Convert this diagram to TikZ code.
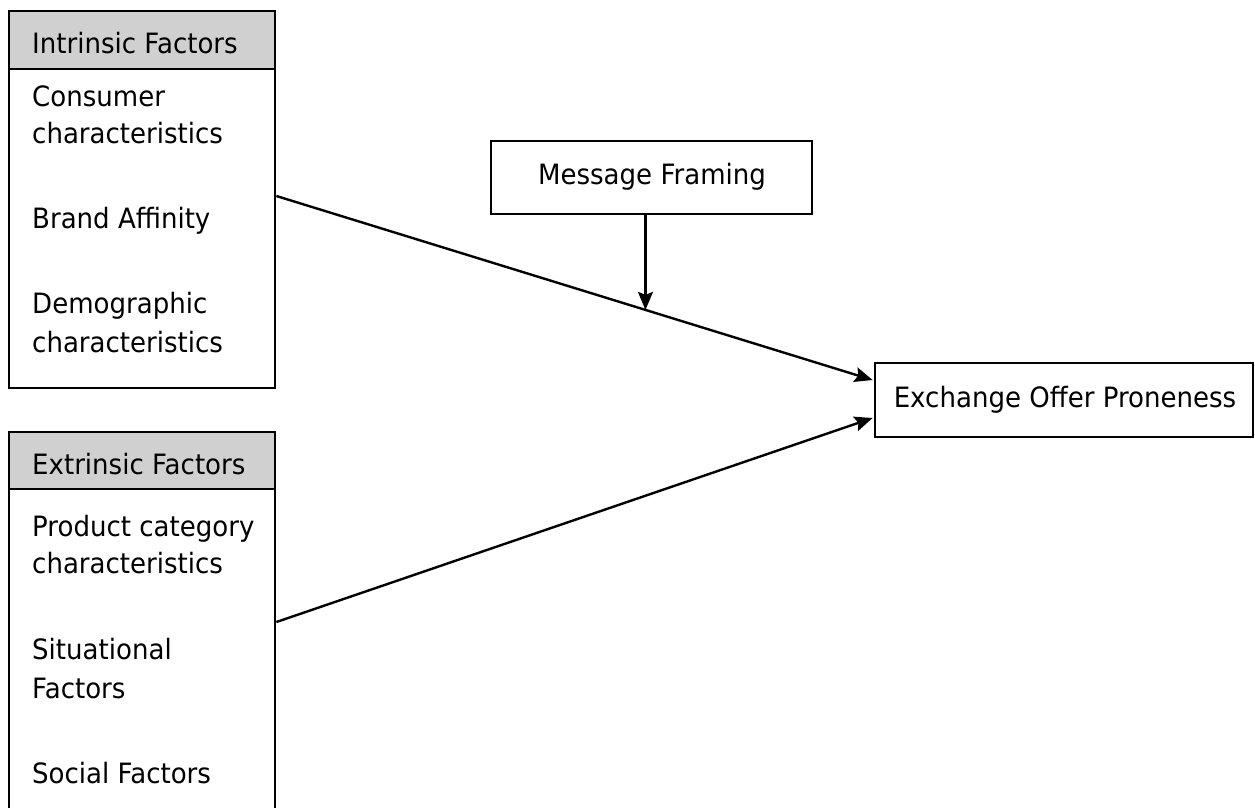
\documentclass[tikz,border=0pt]{standalone}
\usepackage{fontspec}
\setmainfont{DejaVu Sans}[FakeStretch=0.93]
\usetikzlibrary{arrows.meta,calc}
\definecolor{headgray}{RGB}{208,208,208}
\begin{document}
\begin{tikzpicture}[x=1pt,y=-1pt,
  frame/.style={draw=black,line width=2.8pt,fill=white,inner sep=0pt},
  headbox/.style={draw=black,line width=2.8pt,fill=headgray,inner sep=0pt},
  item/.style={anchor=base west,inner sep=0pt,font=\fontsize{28}{38}\selectfont},
  label/.style={inner sep=0pt,font=\fontsize{28}{38}\selectfont},
  link/.style={line width=2.4pt,-{Stealth[length=18pt,width=15pt,inset=3pt]}}]
\useasboundingbox (0,0) rectangle (1255,807);
\clip (0,0) rectangle (1255,807);
\fill[white] (0,0) rectangle (1255,807);

% Intrinsic factors panel
\node[frame,minimum width=266pt,minimum height=377pt] (intr) at (142,199.5) {};
\node[headbox,minimum width=266pt,minimum height=58pt] (intrhead) at (142,40) {};
\node[item] (ih) at (32,53) {Intrinsic Factors};
\node[item] (i1) at (32,106) {Consumer};
\node[item] (i2) at (32,143) {characteristics};
\node[item] (i3) at (32,228) {Brand Affinity};
\node[item] (i4) at (32,313) {Demographic};
\node[item] (i5) at (32,352) {characteristics};

% Extrinsic factors panel (runs past the lower edge)
\node[frame,minimum width=266pt,minimum height=380pt] (extr) at (142,622) {};
\node[headbox,minimum width=266pt,minimum height=57pt] (extrhead) at (142,460.5) {};
\node[item] (eh) at (32,474) {Extrinsic Factors};
\node[item] (e1) at (32,536) {Product category};
\node[item] (e2) at (32,573) {characteristics};
\node[item] (e3) at (32,659) {Situational};
\node[item] (e4) at (32,698) {Factors};
\node[item] (e5) at (32,783) {Social Factors};

% Moderator and outcome
\node[frame,minimum width=321pt,minimum height=73pt] (msg) at (651.5,177.5) {};
\node[label] (msgtxt) at (652,177) {Message Framing};
\node[frame,minimum width=378pt,minimum height=74pt] (exch) at (1064,400) {};
\node[label] (exchtxt) at (1065,400) {Exchange Offer Proneness};

% Connectors
\coordinate (istart) at ($(intr.east)+(0,-3.5)$);
\coordinate (estart) at (extr.east);
\coordinate (itip) at ($(exch.west)+(-1,-20)$);
\coordinate (etip) at ($(exch.west)+(-1,18)$);
\draw[link] (istart) -- coordinate[pos=0.619] (hit) (itip);
\draw[link] (estart) -- (etip);
\draw[link] (msg.south -| hit) -- (hit);
\end{tikzpicture}
\end{document}
